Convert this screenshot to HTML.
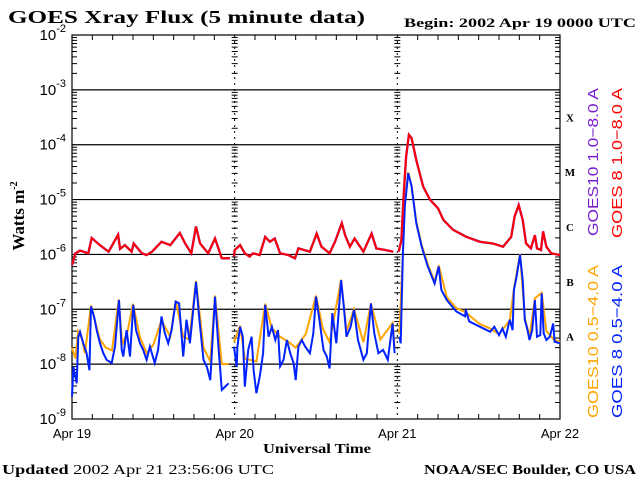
<!DOCTYPE html>
<html><head><meta charset="utf-8"><style>
body{margin:0;background:#fff}
svg{display:block}
text{font-family:"Liberation Serif",serif}
</style></head><body>
<svg id="c" width="640" height="480" viewBox="0 0 640 480" xmlns="http://www.w3.org/2000/svg">
<text x="8" y="23" font-size="18" font-weight="bold" textLength="357" lengthAdjust="spacingAndGlyphs">GOES Xray Flux (5 minute data)</text>
<text x="404" y="27" font-size="13" font-weight="bold" textLength="232" lengthAdjust="spacingAndGlyphs">Begin:  2002 Apr 19 0000 UTC</text>
<text transform="translate(24,216) rotate(-90)" font-size="17" font-weight="bold" text-anchor="middle">Watts  m<tspan dy="-7" font-size="10">-2</tspan></text>
<text x="263" y="453" font-size="14" font-weight="bold" textLength="108" lengthAdjust="spacingAndGlyphs">Universal Time</text>
<text x="2" y="474" font-size="14" textLength="272" lengthAdjust="spacingAndGlyphs"><tspan font-weight="bold">Updated</tspan> 2002 Apr 21 23:56:06 UTC</text>
<text x="424" y="474" font-size="14" font-weight="bold" textLength="212" lengthAdjust="spacingAndGlyphs">NOAA/SEC Boulder, CO USA</text>
<g id="axes"></g>
<g id="series"></g>
<g id="legend">
<text transform="translate(598,236) rotate(-90)" font-size="15" textLength="148" lengthAdjust="spacingAndGlyphs" fill="#7a1fd0" style="font-family:'Liberation Sans',sans-serif">GOES10 1.0−8.0 A</text>
<text transform="translate(622,238) rotate(-90)" font-size="15" textLength="150" lengthAdjust="spacingAndGlyphs" fill="#ff0000" style="font-family:'Liberation Sans',sans-serif">GOES 8 1.0−8.0 A</text>
<text transform="translate(598,418) rotate(-90)" font-size="15" textLength="153" lengthAdjust="spacingAndGlyphs" fill="#ffa500" style="font-family:'Liberation Sans',sans-serif">GOES10 0.5−4.0 A</text>
<text transform="translate(622,418) rotate(-90)" font-size="15" textLength="153" lengthAdjust="spacingAndGlyphs" fill="#0022ff" style="font-family:'Liberation Sans',sans-serif">GOES 8 0.5−4.0 A</text>
</g>
</svg>
<script>
const yTickExps=[-9,-8,-7,-6,-5,-4,-3,-2];
const xTickLabels=["Apr 19","Apr 20","Apr 21","Apr 22"];
const classLabels=["A","B","C","M","X"];
const longTimes=[0,0.5,1.2,2.4,2.9,4.1,5.4,6.8,7.1,7.8,8.8,9.1,10.3,11.0,11.8,13.2,14.5,15.9,16.7,17.6,18.3,18.9,20.1,21.1,22.1,23.3,23.7,
23.9,24.0,24.8,25.5,26.2,26.7,27.7,28.5,29.2,29.9,30.7,31.9,32.9,33.4,35.1,36.1,36.8,38.0,38.8,39.8,40.3,41.0,41.7,43.0,44.2,44.9,46.2,47.4,47.7,
48.2,48.6,48.9,49.3,49.7,50.1,50.8,51.8,52.8,54.0,54.8,56.2,58.2,60.2,62.1,63.6,64.8,65.3,65.9,66.5,67.0,67.7,68.3,68.6,69.2,69.5,70.0,70.7,72.0];
const longLog=[-6.19,-5.98,-5.93,-5.98,-5.70,-5.83,-5.95,-5.64,-5.90,-5.83,-5.95,-5.80,-5.98,-6.01,-5.95,-5.77,-5.83,-5.61,-5.80,-5.98,-5.49,-5.80,-5.98,-5.71,-6.07,-6.07,null,
-6.04,-5.92,-5.83,-5.98,-6.04,-5.98,-6.01,-5.68,-5.77,-5.71,-5.98,-6.01,-6.07,-5.89,-5.95,-5.62,-5.86,-5.98,-5.77,-5.43,-5.65,-5.86,-5.71,-5.95,-5.62,-5.89,-5.92,-5.95,null,
-5.95,-5.74,-5.0,-4.22,-3.82,-3.88,-4.28,-4.76,-5.0,-5.16,-5.37,-5.55,-5.68,-5.77,-5.80,-5.86,-5.68,-5.31,-5.10,-5.37,-5.80,-5.89,-5.65,-5.89,-5.92,-5.58,-5.86,-5.98,-6.01];
const shortTimes=[0,0.2,0.69,0.93,1.18,1.67,2.16,2.56,2.8,3.24,3.64,4.13,4.62,5.11,5.85,6.34,6.93,7.33,7.57,8.06,8.55,9.05,9.44,10.03,10.5,11.0,11.5,12.2,12.7,13.2,13.7,14.2,14.7,15.3,15.8,16.4,16.9,17.4,18.3,18.8,19.4,19.9,20.4,21.1,21.6,22.1,22.6,23.1,23.6,
23.9,24.3,24.4,24.8,25.2,25.5,26.0,26.5,26.8,27.2,27.7,28.2,28.5,29.0,29.5,30.0,30.4,30.7,31.2,31.7,32.2,32.7,33.0,33.4,33.9,34.4,35.1,35.6,36.0,36.5,37.1,37.6,38.0,38.4,39.0,39.7,40.1,40.5,41.1,41.6,42.2,43.0,43.5,44.1,44.6,45.2,45.9,46.6,47.3,47.6,47.8,
48.3,48.5,48.8,49.1,49.6,50.1,50.8,51.6,52.5,53.5,54.1,54.5,55.3,56.7,58.0,58.1,58.6,60.2,61.7,62.3,63.0,63.5,64.0,64.6,65.0,65.2,65.6,66.1,66.5,66.8,67.2,67.5,67.9,68.3,68.6,69.1,69.3,69.6,70.0,70.5,71.0,71.2,72.0];
const shortLog=[-8.59,-8.05,-8.35,-7.50,-7.41,-7.62,-7.80,-8.11,-6.95,-7.13,-7.38,-7.62,-7.80,-7.92,-7.98,-7.68,-6.83,-7.74,-7.86,-7.38,-7.86,-6.92,-7.38,-7.62,-7.74,-7.92,-7.68,-7.98,-7.74,-7.13,-7.44,-7.62,-7.38,-6.86,-6.89,-7.86,-7.19,-7.62,-6.50,-7.19,-7.92,-8.05,-8.29,-6.77,-7.68,-8.47,-8.41,-8.35,null,
-7.68,-8.05,-7.68,-7.32,-7.50,-8.41,-7.74,-7.50,-8.11,-8.53,-8.23,-7.80,-6.92,-7.50,-7.32,-7.56,-7.38,-8.04,-7.92,-7.56,-7.80,-7.98,-8.29,-7.68,-7.56,-7.68,-7.80,-7.44,-6.77,-7.19,-7.74,-7.86,-8.08,-7.07,-7.62,-6.47,-6.95,-7.50,-7.32,-7.01,-7.56,-7.92,-7.80,-6.89,-7.44,-7.80,-7.74,-7.92,-7.26,-7.80,null,
-7.50,-7.62,-6.04,-5.13,-4.52,-4.76,-5.43,-5.86,-6.22,-6.53,-6.22,-6.65,-6.83,-7.04,-7.13,-7.01,-7.22,-7.32,-7.41,-7.32,-7.47,-7.35,-7.50,-7.19,-7.38,-6.65,-6.40,-6.01,-6.47,-7.19,-7.38,-7.56,-7.38,-6.83,-7.50,-7.47,-6.71,-7.44,-7.56,-7.50,-7.26,-7.59,-7.62];
const short10Times=[0,0.5,0.9,1.5,1.9,2.8,4.1,5.0,5.9,6.9,7.4,8.2,9.0,10.0,11.0,12.0,13.2,14.5,15.3,16.4,17.3,18.3,19.4,20.4,21.1,22.1,23.1,23.6,
23.9,24.8,25.5,27.2,28.5,29.5,30.7,32.0,33.0,34.5,36.0,37.0,38.0,39.7,40.5,41.6,43.0,44.1,45.5,47.3,47.6,47.8,
48.3,48.8,49.1,49.6,50.1,50.8,51.6,52.5,53.5,54.1,55.3,56.7,58.0,60.2,61.7,63.0,64.6,65.2,66.1,66.8,67.5,68.3,69.3,70.0,71.1,72.0];
const short10Log=[-7.7,-7.9,-7.4,-7.55,-7.8,-6.93,-7.55,-7.7,-7.75,-6.82,-7.65,-7.4,-6.9,-7.5,-7.8,-7.65,-7.2,-7.5,-6.84,-7.5,-7.55,-6.48,-7.7,-7.95,-6.75,-8.0,-8.0,null,
-7.6,-7.3,-7.9,-7.95,-6.9,-7.35,-7.5,-7.6,-7.7,-7.45,-6.75,-7.35,-7.6,-6.46,-7.4,-7.0,-7.6,-6.9,-7.55,-7.25,-7.7,null,
-7.45,-6.0,-5.1,-4.5,-4.75,-5.4,-5.83,-6.18,-6.5,-6.2,-6.78,-6.98,-7.05,-7.27,-7.35,-7.45,-7.2,-6.63,-6.0,-7.15,-7.5,-6.8,-6.7,-7.4,-7.55,-7.6];

const L=72,R=560,T=35,B=419;
const NS="http://www.w3.org/2000/svg";
function xs(h){return L+(R-L)*h/72;}
function ys(lg){return T+(-2-lg)*(B-T)/7;}
function mk(tag,attrs,parent){const e=document.createElementNS(NS,tag);for(const k in attrs)e.setAttribute(k,attrs[k]);parent.appendChild(e);return e;}
const ax=document.getElementById('axes');
yTickExps.forEach(e=>{
  if(e>-9&&e<-2){const g=mk('line',{x1:L,x2:R,y1:ys(e),y2:ys(e),stroke:'#000','stroke-width':1.2},ax);
  
  }
  const t=mk('text',{x:66,y:ys(e)+5,'font-size':15,'text-anchor':'end',style:"font-family:'Liberation Sans',sans-serif"},ax);
  
  
  t.innerHTML='10<tspan dy="-8" font-size="11">'+e+'</tspan>';
});
let tk='';
for(let e=-9;e<-2;e++){for(let m=2;m<10;m++){const y=ys(e+Math.log10(m));
 tk+=`M${L} ${y}h5M${R} ${y}h-5M${xs(24)-3} ${y}h6M${xs(48)-3} ${y}h6`;}}
for(let h=3;h<72;h+=3){if(h%24!==0)tk+=`M${xs(h)} ${T}v5M${xs(h)} ${B}v-5`;}
const tp=mk('path',{d:tk,stroke:'#000','stroke-width':1,fill:'none'},ax);


[24,48].forEach(h=>{const d=mk('line',{x1:xs(h),x2:xs(h),y1:T,y2:B,stroke:'#000','stroke-width':1,'stroke-dasharray':'2,4'},ax);

});
xTickLabels.forEach((s,i)=>{const t=mk('text',{x:xs(i*24),y:438,'font-size':13,'text-anchor':'middle',style:"font-family:'Liberation Sans',sans-serif"},ax);
t.textContent=s;

});
classLabels.forEach((s,i)=>{const t=mk('text',{x:570,y:(ys(-8+i)+ys(-7+i))/2+4,'font-size':11,'font-weight':'bold','text-anchor':'middle'},ax);
t.textContent=s;

});
const fr=mk('rect',{x:L,y:T,width:R-L,height:B-T,fill:'none',stroke:'#000','stroke-width':1.2},ax);


const sg=document.getElementById('series');
function line(times,vals,color,name,w){let d='',pen=false;
 times.forEach((h,i)=>{const v=vals[i];if(v===null||v===undefined){pen=false;return;}
  d+=(pen?'L':'M')+xs(h).toFixed(1)+' '+ys(v).toFixed(1);pen=true;});
 const p=mk('path',{d:d,stroke:color,'stroke-width':w,fill:'none','stroke-linejoin':'miter'},sg);
 
 }
line(short10Times,short10Log,'#ffa500','series-goes10-short',2);
line(shortTimes,shortLog,'#0022ff','series-goes8-short',2);
line(longTimes,longLog,'#7a1fd0','series-goes10-long',2.4);
line(longTimes,longLog,'#ff0000','series-goes8-long',2);
</script>
</body></html>
